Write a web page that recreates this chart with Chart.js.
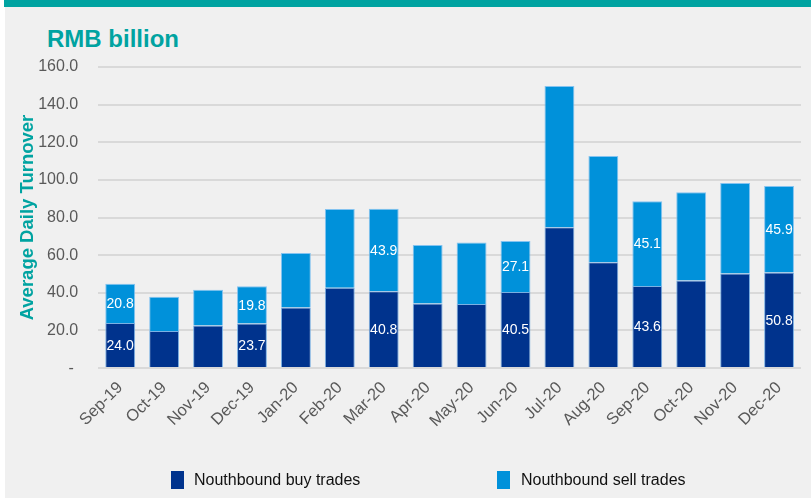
<!DOCTYPE html>
<html><head><meta charset="utf-8">
<script src="https://cdn.jsdelivr.net/npm/chart.js@4.4.0/dist/chart.umd.min.js"></script>
<style>
html,body{margin:0;padding:0;background:#fff;}
#wrap{position:relative;width:811px;height:498px;overflow:hidden;font-family:"Liberation Sans",Arial,sans-serif;}
#panel{position:absolute;left:5px;top:7px;width:806px;height:491px;background:#f0f0f0;}
#banner{position:absolute;left:4px;top:0;width:807px;height:7px;background:#00a3a1;}
#unit{position:absolute;left:47px;top:25px;font-weight:bold;font-size:24px;color:#00a3a1;line-height:28px;}
canvas{position:absolute;left:0;top:0;}
.leg{position:absolute;top:471px;font-size:16px;color:#111;line-height:18px;white-space:nowrap;}
.box{position:absolute;top:471px;width:13px;height:18px;}
</style></head>
<body>
<div id="wrap">
  <div id="panel"></div>
  <div id="banner"></div>
  <div id="unit">RMB billion</div>
  <canvas id="c" width="811" height="498"></canvas>
  <div class="box" style="left:171px;background:#00338d"></div>
  <div class="leg" style="left:194px">Nouthbound buy trades</div>
  <div class="box" style="left:497px;background:#0091da"></div>
  <div class="leg" style="left:521px">Nouthbound sell trades</div>
</div>
<script>
const months = ['Sep-19','Oct-19','Nov-19','Dec-19','Jan-20','Feb-20','Mar-20','Apr-20','May-20','Jun-20','Jul-20','Aug-20','Sep-20','Oct-20','Nov-20','Dec-20'];
const buyTrades = [24.0, 19.7, 22.6, 23.7, 32.2, 42.7, 40.8, 34.3, 34.1, 40.5, 74.8, 56.2, 43.6, 46.6, 50.3, 50.8];
const sellTrades = [20.8, 18.2, 19.0, 19.8, 29.0, 41.9, 43.9, 31.1, 32.6, 27.1, 75.1, 56.5, 45.1, 46.9, 48.0, 45.9];
const labelledMonths = ['Sep-19','Dec-19','Mar-20','Jun-20','Sep-20','Dec-20'];
const yTicks = [0, 20, 40, 60, 80, 100, 120, 140, 160];

const FONT = '"Liberation Sans", Arial, sans-serif';
const TEAL = '#00a3a1';

const valueLabels = {
  id: 'valueLabels',
  afterDatasetsDraw(chart) {
    const ctx = chart.ctx;
    ctx.save();
    ctx.fillStyle = '#ffffff';
    ctx.font = '14px ' + FONT;
    ctx.textAlign = 'center';
    ctx.textBaseline = 'middle';
    chart.data.datasets.forEach((ds, di) => {
      const meta = chart.getDatasetMeta(di);
      meta.data.forEach((el, i) => {
        if (!labelledMonths.includes(chart.data.labels[i])) return;
        const y = (el.y + el.base) / 2;
        ctx.fillText(ds.data[i].toFixed(1), el.x, y + 1);
      });
    });
    ctx.restore();
  }
};

new Chart(document.getElementById('c'), {
  type: 'bar',
  data: {
    labels: months,
    datasets: [
      { label: 'Nouthbound buy trades', data: buyTrades, backgroundColor: '#00338d', borderColor: 'rgba(110,170,225,0.9)', borderWidth: 1, barPercentage: 0.68, categoryPercentage: 1 },
      { label: 'Nouthbound sell trades', data: sellTrades, backgroundColor: '#0091da', borderColor: 'rgba(120,190,240,0.9)', borderWidth: 1, barPercentage: 0.68, categoryPercentage: 1 }
    ]
  },
  options: {
    responsive: false,
    animation: false,
    layout: { padding: { left: 13, right: 10, top: 67, bottom: 65 } },
    plugins: { legend: { display: false }, tooltip: { enabled: false }, title: { display: false } },
    scales: {
      x: {
        stacked: true,
        grid: { display: false },
        border: { display: false },
        ticks: { color: '#595959', font: { family: FONT, size: 16.5 }, minRotation: 45, maxRotation: 45, padding: 2 }
      },
      y: {
        stacked: true,
        min: 0, max: 160,
        afterBuildTicks(scale) { scale.ticks = yTicks.map(v => ({ value: v })); },
        grid: { color: '#d9d9d9', lineWidth: 2, drawTicks: false },
        border: { display: false },
        ticks: {
          color: '#595959', font: { family: FONT, size: 16 }, padding: 20,
          callback: v => v === 0 ? '- ' : Number(v).toFixed(1)
        },
        title: { display: true, text: 'Average Daily Turnover', color: TEAL, font: { family: FONT, size: 18.5, weight: 'bold' }, padding: { top: 4, bottom: -21 } }
      }
    }
  },
  plugins: [valueLabels]
});
</script>
</body></html>
